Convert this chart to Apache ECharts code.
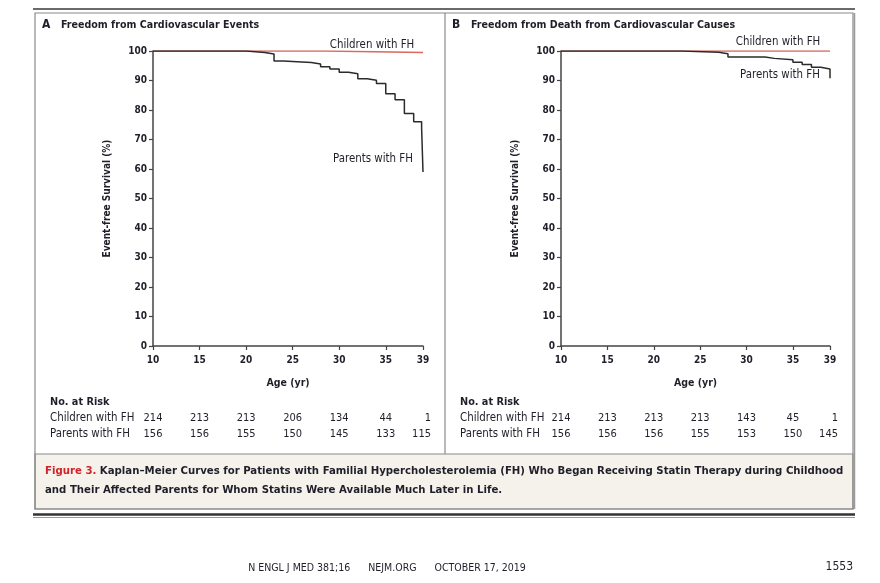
<!DOCTYPE html>
<html>
<head>
<meta charset="utf-8">
<script src="https://cdn.jsdelivr.net/npm/echarts@6/dist/echarts.min.js"></script>
<style>
  html, body { margin: 0; padding: 0; background: #fff; }
  #main { width: 880px; height: 583px; }
</style>
</head>
<body>
<div id="main"></div>
<script>
// ages on the x axis
var tickAges = [10, 15, 20, 25, 30, 35, 39];

// panel A - freedom from cardiovascular events
var childrenA = [[10, 100], [28.5, 99.5], [39, 99.5]];
var parentsA = [[10, 100], [20, 99.5], [22, 99.0], [23, 96.6], [24, 96.1], [27, 95.6], [28, 94.7],
  [29, 93.9], [30, 92.8], [31, 92.3], [32, 90.6], [33, 90.1], [34, 89.0], [35, 85.5], [36, 83.5],
  [37, 78.8], [38, 76.0], [38.85, 74.0], [39, 59.0]];

// panel B - freedom from death from cardiovascular causes
var childrenB = [[10, 100], [39, 100]];
var parentsB = [[10, 100], [23, 99.6], [27, 99.1], [28, 98.0], [32, 97.5], [33, 97.0], [35, 96.2],
  [36, 95.4], [37, 94.5], [38, 93.9], [39, 90.8]];

// numbers at risk
var riskChildrenA = [214, 213, 213, 206, 134, 44, 1];
var riskParentsA = [156, 156, 155, 150, 145, 133, 115];
var riskChildrenB = [214, 213, 213, 213, 143, 45, 1];
var riskParentsB = [156, 156, 156, 155, 153, 150, 145];

var FONT = "'Liberation Sans Narrow', 'DejaVu Sans Condensed', 'Open Sans', sans-serif";
var INK = '#1f1f2a';
var RED = '#d66a5e';

function xAxisFor(i) {
    return {
        type: 'value', gridIndex: i, min: 10, max: 39, interval: 5,
        name: 'Age (yr)', nameLocation: 'middle', nameGap: 32,
        nameTextStyle: { fontFamily: FONT, fontSize: 10.5, fontWeight: 'bold', color: INK },
        axisLine: { lineStyle: { color: '#444', width: 1.5 } },
        axisTick: { length: 4, lineStyle: { color: '#444', width: 1.2 } },
        axisLabel: { margin: 9, fontFamily: FONT, fontSize: 10, fontWeight: 'bold', color: INK },
        splitLine: { show: false }
    };
}

function yAxisFor(i) {
    return {
        type: 'value', gridIndex: i, min: 0, max: 100, interval: 10,
        name: 'Event-free Survival (%)', nameLocation: 'middle', nameGap: 41, nameRotate: 90,
        nameTextStyle: { fontFamily: FONT, fontSize: 10, fontWeight: 'bold', color: INK },
        axisLine: { show: true, lineStyle: { color: '#444', width: 1.5 } },
        axisTick: { show: true, length: 4, lineStyle: { color: '#444', width: 1.2 } },
        axisLabel: { margin: 6, fontFamily: FONT, fontSize: 10, fontWeight: 'bold', color: INK },
        splitLine: { show: false }
    };
}

function kmLine(data, i, color, name) {
    return {
        type: 'line', name: name, xAxisIndex: i, yAxisIndex: i, data: data,
        step: 'end', symbol: 'none', silent: true,
        lineStyle: { color: color, width: 1.5 }
    };
}

function txt(x, y, s, opt) {
    opt = opt || {};
    return {
        type: 'text', x: x, y: y, silent: true,
        style: {
            text: s, fontFamily: FONT, fontSize: opt.size || 11,
            fontWeight: opt.bold ? 'bold' : 'normal', fill: opt.color || INK,
            align: opt.align || 'left', verticalAlign: 'middle',
            rich: opt.rich
        }
    };
}

function hline(x1, x2, y, w, c) {
    return { type: 'line', silent: true, shape: { x1: x1, y1: y, x2: x2, y2: y }, style: { stroke: c, lineWidth: w } };
}
function vline(x, y1, y2, w, c) {
    return { type: 'line', silent: true, shape: { x1: x, y1: y1, x2: x, y2: y2 }, style: { stroke: c, lineWidth: w } };
}

var chart = echarts.init(document.getElementById('main'));

var option = {
    backgroundColor: '#fff',
    animation: false,
    grid: [
        { left: 153, top: 51, width: 270, height: 295 },
        { left: 561, top: 51, width: 269, height: 295 }
    ],
    xAxis: [xAxisFor(0), xAxisFor(1)],
    yAxis: [yAxisFor(0), yAxisFor(1)],
    series: [
        kmLine(childrenA, 0, RED, 'Children with FH'),
        kmLine(parentsA, 0, '#2b2b2b', 'Parents with FH'),
        kmLine(childrenB, 1, RED, 'Children with FH'),
        kmLine(parentsB, 1, '#2b2b2b', 'Parents with FH')
    ]
};
chart.setOption(option);

// frames, titles, tables, caption
var g = [];
g.push({ type: 'rect', silent: true, z: -1, shape: { x: 35, y: 454, width: 818, height: 55 }, style: { fill: '#f5f2ec', stroke: '#8a8a8a', lineWidth: 1.2 } });
g.push(hline(33, 855, 9, 2, '#6a6a6a'));
g.push({ type: 'rect', silent: true, shape: { x: 35, y: 13, width: 818, height: 496 }, style: { fill: null, stroke: '#8a8a8a', lineWidth: 1.2 } });
g.push(vline(854.5, 13, 509, 1.5, '#9a9a9a'));
g.push(vline(445, 13, 454, 1.2, '#8a8a8a'));
g.push(hline(33, 855, 514.5, 2.5, '#333'));
g.push(hline(33, 855, 517.5, 1, '#9a9a9a'));

g.push(txt(42, 25, 'A', { bold: true, size: 12 }));
g.push(txt(61, 25, 'Freedom from Cardiovascular Events', { bold: true, size: 10.6 }));
g.push(txt(452, 25, 'B', { bold: true, size: 12 }));
g.push(txt(471, 25, 'Freedom from Death from Cardiovascular Causes', { bold: true, size: 10.6 }));

// curve labels
g.push(txt(372, 45, 'Children with FH', { align: 'center', size: 11.4 }));
g.push(txt(373, 159, 'Parents with FH', { align: 'center', size: 11.4 }));
g.push(txt(778, 42, 'Children with FH', { align: 'center', size: 11.4 }));
g.push(txt(780, 75, 'Parents with FH', { align: 'center', size: 11.4 }));

// risk tables
function riskTable(i, left, rowC, rowP) {
    g.push(txt(left, 402, 'No. at Risk', { bold: true, size: 10.8 }));
    g.push(txt(left, 418, 'Children with FH', { size: 11.4 }));
    g.push(txt(left, 434, 'Parents with FH', { size: 11.4 }));
    tickAges.forEach(function (age, k) {
        var px = chart.convertToPixel({ xAxisIndex: i }, age);
        var last = k === tickAges.length - 1;
        var ax = last ? px + 8 : px;
        var al = last ? 'right' : 'center';
        g.push(txt(ax, 418, String(rowC[k]), { align: al, size: 11 }));
        g.push(txt(ax, 434, String(rowP[k]), { align: al, size: 11 }));
    });
}
riskTable(0, 50, riskChildrenA, riskParentsA);
riskTable(1, 460, riskChildrenB, riskParentsB);

// caption
g.push(txt(45, 471, '{r|Figure 3.} Kaplan\u2013Meier Curves for Patients with Familial Hypercholesterolemia (FH) Who Began Receiving Statin Therapy during Childhood', {
    bold: true, size: 11.3,
    rich: { r: { fill: '#d2232a', fontFamily: FONT, fontSize: 11.3, fontWeight: 'bold' } }
}));
g.push(txt(45, 490, 'and Their Affected Parents for Whom Statins Were Available Much Later in Life.', { bold: true, size: 11.3 }));

// footer
g.push(txt(387, 568, 'N ENGL J MED 381;16      NEJM.ORG      OCTOBER 17, 2019', { align: 'center', size: 10.5 }));
g.push(txt(853, 567, '1553', { align: 'right', size: 12 }));

chart.setOption({ graphic: g });
</script>
</body>
</html>
